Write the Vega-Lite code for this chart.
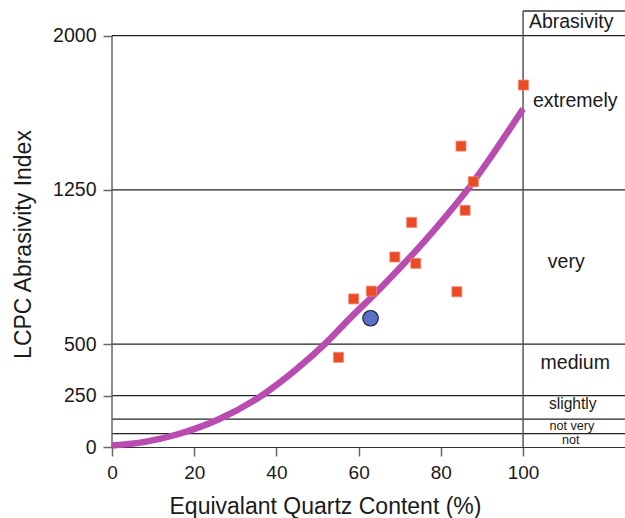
{
  "$schema": "https://vega.github.io/schema/vega-lite/v6.json",
  "width": 513,
  "height": 436,
  "autosize": {"type": "none"},
  "padding": {"left": 112, "top": 11, "right": 0, "bottom": 71},
  "background": "white",
  "config": {
    "view": {"stroke": null},
    "font": "Liberation Sans",
    "text": {"font": "Liberation Sans", "color": "#1a1a1a"}
  },
  "layer": [
    {
      "data": {"values": [{"y": 65}, {"y": 136}, {"y": 250}, {"y": 500}, {"y": 1250}, {"y": 2000}]},
      "mark": {"type": "rule", "color": "#222222", "strokeWidth": 1.2},
      "encoding": {
        "y": {
          "field": "y", "type": "quantitative",
          "scale": {"domain": [0, 2120], "nice": false, "zero": true},
          "axis": {
            "values": [0, 250, 500, 1250, 2000],
            "format": "d",
            "labelFlush": false,
            "title": "LCPC Abrasivity Index",
            "grid": false, "domain": false,
            "tickSize": 9, "tickColor": "#666666", "tickWidth": 1.5,
            "labelFontSize": 19.5, "labelPadding": 7, "labelColor": "#1a1a1a", "labelFont": "Liberation Sans",
            "titleFontSize": 23, "titleFontWeight": "normal", "titleColor": "#1a1a1a", "titleFont": "Liberation Sans",
            "titleX": -89, "titleY": 233, "titleBaseline": "middle", "titleAlign": "center", "titleAngle": -90
          }
        },
        "x": {
          "datum": 0, "type": "quantitative",
          "scale": {"domain": [0, 124.8], "nice": false, "zero": false},
          "axis": {
            "values": [0, 20, 40, 60, 80, 100],
            "format": "d",
            "labelFlush": false,
            "title": "Equivalant Quartz Content (%)",
            "grid": false, "domain": true, "domainColor": "#333333", "domainWidth": 1.2,
            "tickSize": 9, "tickColor": "#666666", "tickWidth": 1.5,
            "labelFontSize": 19, "labelPadding": 7, "labelColor": "#1a1a1a", "labelFont": "Liberation Sans",
            "titleFontSize": 23, "titleFontWeight": "normal", "titleColor": "#1a1a1a", "titleFont": "Liberation Sans",
            "titleX": 213, "titleY": 66, "titleBaseline": "alphabetic", "titleAlign": "center"
          }
        },
        "x2": {"datum": 124.8}
      }
    },
    {
      "data": {"values": [{"x": 100}]},
      "mark": {"type": "rule", "color": "#555555", "strokeWidth": 1.5},
      "encoding": {
        "x": {"field": "x", "type": "quantitative"},
        "y": {"datum": 0, "type": "quantitative"},
        "y2": {"datum": 2120}
      }
    },
    {
      "data": {"values": [{"y": 2120}]},
      "mark": {"type": "rule", "color": "#333333", "strokeWidth": 1.5},
      "encoding": {
        "y": {"field": "y", "type": "quantitative"},
        "x": {"datum": 100, "type": "quantitative"},
        "x2": {"datum": 124.8}
      }
    },
    {
      "data": {"values": [{"x": 0}]},
      "mark": {"type": "rule", "color": "#666666", "strokeWidth": 1.5},
      "encoding": {
        "x": {"field": "x", "type": "quantitative"},
        "y": {"datum": 0, "type": "quantitative"},
        "y2": {"datum": 2000}
      }
    },
    {
      "data": {"values": [
        {"x": 0, "y": 7}, {"x": 8, "y": 25}, {"x": 16, "y": 62}, {"x": 26, "y": 135},
        {"x": 37, "y": 258}, {"x": 45, "y": 380}, {"x": 52, "y": 505}, {"x": 58, "y": 628},
        {"x": 64, "y": 745}, {"x": 70, "y": 870}, {"x": 76, "y": 1000}, {"x": 82, "y": 1140},
        {"x": 87, "y": 1265}, {"x": 92, "y": 1405}, {"x": 100, "y": 1644}
      ]},
      "mark": {"type": "line", "color": "#b94cb1", "strokeWidth": 6.5, "interpolate": "monotone", "strokeCap": "butt"},
      "encoding": {
        "x": {"field": "x", "type": "quantitative"},
        "y": {"field": "y", "type": "quantitative"}
      }
    },
    {
      "data": {"values": [
        {"x": 100.1, "y": 1760}, {"x": 84.9, "y": 1463}, {"x": 87.9, "y": 1290}, {"x": 85.9, "y": 1151},
        {"x": 72.9, "y": 1092}, {"x": 68.8, "y": 924}, {"x": 73.9, "y": 893}, {"x": 63.1, "y": 758},
        {"x": 58.8, "y": 720}, {"x": 83.9, "y": 755}, {"x": 55.1, "y": 436}
      ]},
      "mark": {"type": "square", "filled": true, "size": 100, "color": "#eb4a26", "stroke": "#f3866c", "strokeWidth": 0.8, "opacity": 1},
      "encoding": {
        "x": {"field": "x", "type": "quantitative"},
        "y": {"field": "y", "type": "quantitative"}
      }
    },
    {
      "data": {"values": [{"x": 62.9, "y": 626}]},
      "mark": {"type": "circle", "size": 240, "fill": "#5a70c6", "stroke": "#1d1d33", "strokeWidth": 1.2, "opacity": 1},
      "encoding": {
        "x": {"field": "x", "type": "quantitative"},
        "y": {"field": "y", "type": "quantitative"}
      }
    },
    {
      "data": {"values": [
        {"x": 111.7, "y": 2066, "t": "Abrasivity"},
        {"x": 112.7, "y": 1682, "t": "extremely"},
        {"x": 110.5, "y": 899, "t": "very"},
        {"x": 112.7, "y": 408, "t": "medium"}
      ]},
      "mark": {"type": "text", "fontSize": 19.5, "align": "center", "baseline": "middle"},
      "encoding": {
        "x": {"field": "x", "type": "quantitative"},
        "y": {"field": "y", "type": "quantitative"},
        "text": {"field": "t"}
      }
    },
    {
      "data": {"values": [{"x": 112.1, "y": 209, "t": "slightly"}]},
      "mark": {"type": "text", "fontSize": 15.6, "align": "center", "baseline": "middle"},
      "encoding": {
        "x": {"field": "x", "type": "quantitative"},
        "y": {"field": "y", "type": "quantitative"},
        "text": {"field": "t"}
      }
    },
    {
      "data": {"values": [{"x": 111.9, "y": 103, "t": "not very"}, {"x": 111.6, "y": 36, "t": "not"}]},
      "mark": {"type": "text", "fontSize": 12.6, "align": "center", "baseline": "middle"},
      "encoding": {
        "x": {"field": "x", "type": "quantitative"},
        "y": {"field": "y", "type": "quantitative"},
        "text": {"field": "t"}
      }
    }
  ]
}
